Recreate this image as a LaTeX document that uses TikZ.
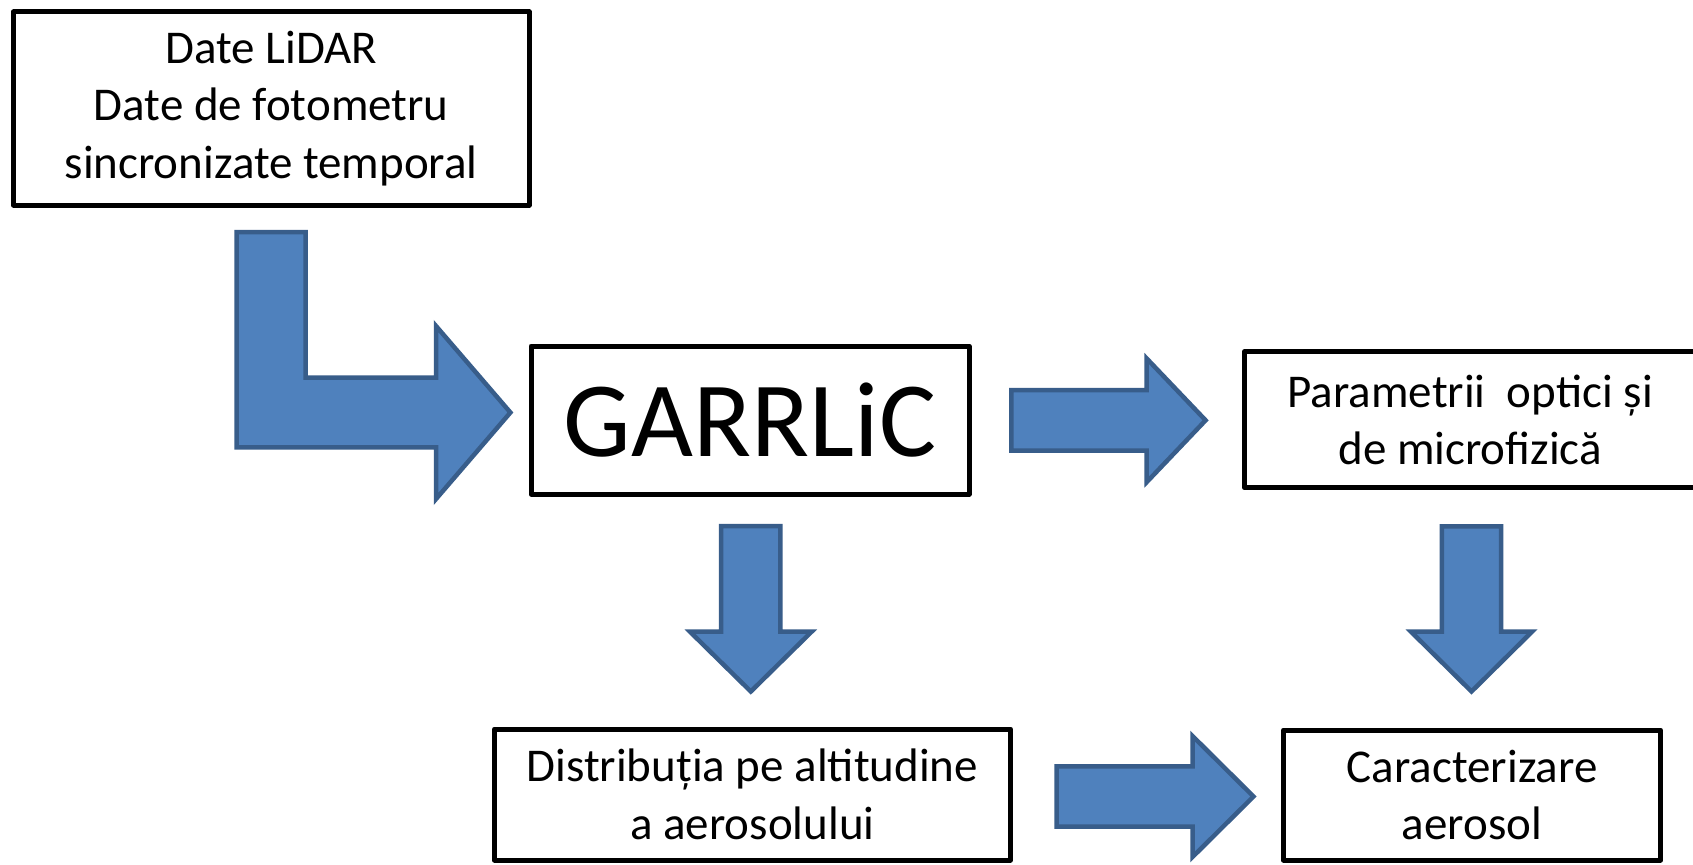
\documentclass[tikz,border=0pt]{standalone}
\usepackage{fontspec}
\setmainfont{Carlito}
\definecolor{arrowfill}{HTML}{4F81BD}
\definecolor{arrowline}{HTML}{385D8A}
\begin{document}
\begin{tikzpicture}[x=1pt,y=-1pt,
  box/.style={draw=black, line width=5pt, line join=round, fill=white,
    inner sep=0pt, outer sep=0pt, align=center,
    font=\fontsize{47}{57.5}\selectfont},
  blockarrow/.style={fill=arrowfill, draw=arrowline, line width=4.5pt,
    line join=miter},
]
\useasboundingbox (0,0) rectangle (1693,864);
\clip (0,0) rectangle (1693,864);
\fill[white] (0,0) rectangle (1693,864);

% processing boxes
\node[box, minimum width=515.6pt, minimum height=193pt] (input) at (271.2,108.5)
  {Date LiDAR\\Date de fotometru\\sincronizate temporal};
\node[box, minimum width=438pt, minimum height=148pt,
  font=\fontsize{107}{128}\selectfont] (garrlic) at (750,420) {GARRLiC};
\node[box, minimum width=451.7pt, minimum height=135.7pt] (optic) at (1470.2,419.8)
  {Parametrii~ optici și\\de microfizică};
\node[box, minimum width=516pt, minimum height=131pt] (profile) at (752.4,794.5)
  {Distribuția pe altitudine\\a aerosolului};
\node[box, minimum width=377pt, minimum height=130pt] (result) at (1472.1,795)
  {Caracterizare\\aerosol};

% bent arrow: input -> GARRLiC
\draw[blockarrow] (236.7,232) -- (305.7,232) -- (305.7,377.7) -- (436,377.7)
  -- (436,326) -- (510.4,412.5) -- (436,499) -- (436,447.3) -- (236.7,447.3) -- cycle;

% GARRLiC -> optical parameters
\draw[blockarrow] (1011.3,390) -- (1146.7,390) -- (1146.7,358.5) -- (1205.6,420.3)
  -- (1146.7,482.1) -- (1146.7,450.7) -- (1011.3,450.7) -- cycle;

% GARRLiC -> vertical distribution
\draw[blockarrow] (721.1,526) -- (780.4,526) -- (780.4,631.7) -- (811.6,631.7)
  -- (750.8,691.5) -- (690,631.7) -- (721.1,631.7) -- cycle;

% optical parameters -> characterisation
\draw[blockarrow] (1441.9,526.3) -- (1501,526.3) -- (1501,631.7) -- (1532,631.7)
  -- (1471.5,691.5) -- (1411,631.7) -- (1441.9,631.7) -- cycle;

% vertical distribution -> characterisation
\draw[blockarrow] (1056.7,766.3) -- (1192.5,766.3) -- (1192.5,736) -- (1253.5,796.5)
  -- (1192.5,857) -- (1192.5,826.7) -- (1056.7,826.7) -- cycle;
\end{tikzpicture}
\end{document}
